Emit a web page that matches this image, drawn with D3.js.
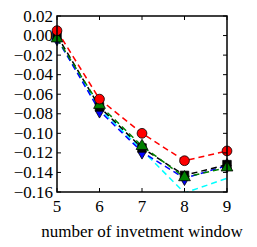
<!DOCTYPE html>
<html><head><meta charset="utf-8">
<script src="https://cdn.jsdelivr.net/npm/d3@7/dist/d3.min.js"></script>
<style>body{margin:0;background:#fff;}</style>
</head><body>
<svg id="c" width="257" height="247" style="font-family:'Liberation Serif'"></svg>
<script>
const xs = [5, 6, 7, 8, 9];
const cyanVals  = [-0.003, -0.075, -0.117, -0.161, -0.146];
const blueVals  = [-0.003, -0.077, -0.119, -0.146, -0.133];
const blackVals = [0.000, -0.073, -0.115, -0.143, -0.132];
const greenVals = [-0.003, -0.071, -0.113, -0.145, -0.135];
const redVals   = [0.005, -0.065, -0.100, -0.128, -0.118];
const yTicks = [0.02, 0.00, -0.02, -0.04, -0.06, -0.08, -0.10, -0.12, -0.14, -0.16];
const xTicks = [5, 6, 7, 8, 9];
const xLabel = "number of invetment window";

const FONT = "'Liberation Serif'";
const svg = d3.select("#c");
const L = 57, R = 227, T = 16, B = 192;
const x = d3.scaleLinear().domain([5, 9]).range([L, R]);
const y = d3.scaleLinear().domain([-0.16, 0.02]).range([B, T]);

svg.append("defs").append("clipPath").attr("id","clip")
  .append("rect").attr("x",L).attr("y",T).attr("width",R-L).attr("height",B-T);

const series = [
  {v: cyanVals, c: "#00ffff", m: null},
  {v: blueVals, c: "#0000ff", m: "diamond"},
  {v: blackVals, c: "#000000", m: "square"},
  {v: greenVals, c: "#008000", m: "triangle"},
  {v: redVals, c: "#ff0000", m: "circle"}
];
const g = svg.append("g").attr("clip-path","url(#clip)");
const line = d3.line().x((d,i)=>x(xs[i])).y(d=>y(d));
series.forEach(s=>{
  g.append("path").attr("d", line(s.v)).attr("fill","none")
    .attr("stroke", s.c).attr("stroke-width",1.5).attr("stroke-dasharray","6,4");
});
const sym = {diamond: d3.symbolDiamond, square: d3.symbolSquare, triangle: d3.symbolTriangle, circle: d3.symbolCircle};
const sizes = {diamond: 60, square: 72, triangle: 60, circle: 75};
const mg = svg.append("g");
series.forEach(s=>{
  if (!s.m) return;
  s.v.forEach((d,i)=>{
    mg.append("path").attr("d", d3.symbol(sym[s.m], sizes[s.m])())
      .attr("transform", `translate(${x(xs[i])},${y(d)})`)
      .attr("fill", s.c).attr("stroke","#000").attr("stroke-width",0.8);
  });
});

const tk = svg.append("g").attr("stroke","#000").attr("stroke-width",1);
xTicks.forEach(t=>{
  tk.append("line").attr("x1",x(t)).attr("x2",x(t)).attr("y1",B).attr("y2",B-4);
  tk.append("line").attr("x1",x(t)).attr("x2",x(t)).attr("y1",T).attr("y2",T+4);
});
yTicks.forEach(t=>{
  tk.append("line").attr("x1",L).attr("x2",L+4).attr("y1",y(t)).attr("y2",y(t));
  tk.append("line").attr("x1",R).attr("x2",R-4).attr("y1",y(t)).attr("y2",y(t));
});
svg.append("rect").attr("x",L).attr("y",T).attr("width",R-L).attr("height",B-T)
  .attr("fill","none").attr("stroke","#000").attr("stroke-width",1.5);

const fmt = t => (t < 0 ? "\u2212" : "") + Math.abs(t).toFixed(2);
const tg = svg.append("g").style("font-family", FONT);
yTicks.forEach(t=>{
  tg.append("text").attr("x",L-4).attr("y",y(t)+5.5)
    .attr("text-anchor","end").style("font-size","17px").style("font-family",FONT)
    .text(fmt(t));
});
xTicks.forEach(t=>{
  tg.append("text").attr("x",x(t)).attr("y",B+20)
    .attr("text-anchor","middle").style("font-size","17px").style("font-family",FONT)
    .text(t);
});
tg.append("text").attr("x",142).attr("y",B+45).attr("text-anchor","middle")
  .style("font-size","17px").style("font-family",FONT).text(xLabel);
</script>
</body></html>
